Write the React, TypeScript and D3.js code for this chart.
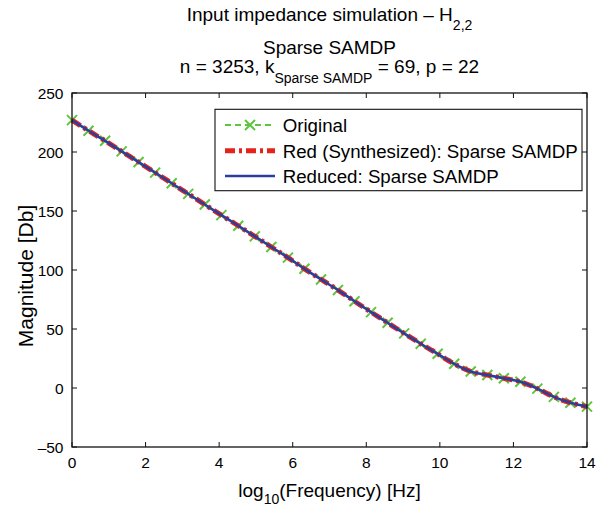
import React from "react";
import * as d3 from "d3";

const logFreq = [0, 0.45, 0.9, 1.35, 1.81, 2.26, 2.71, 3.16, 3.61, 4.06, 4.52, 4.97, 5.42, 5.87, 6.32, 6.77, 7.23, 7.68, 8.13, 8.58, 9.03, 9.48, 9.94, 10.39, 10.84, 11.29, 11.74, 12.19, 12.65, 13.1, 13.55, 14];
const original = [227, 218, 209.5, 200.5, 191.5, 182.5, 173.5, 164.5, 155.5, 146.5, 137.5, 128.5, 119.5, 110.5, 101, 92, 83, 73.5, 64.3, 55.3, 46.3, 37.5, 29, 20.5, 14, 11, 8.3, 5.3, -0.5, -7.5, -12.5, -15.8];
const synthesized = [227, 218, 209.5, 200.5, 191.5, 182.5, 173.5, 164.5, 155.5, 146.5, 137.5, 128.5, 119.5, 110.5, 101, 92, 83, 73.5, 64.3, 55.3, 46.3, 37.5, 29, 20.5, 14, 11, 8.3, 5.3, -0.5, -7.5, -12.5, -15.8];
const reduced = [227, 218, 209.5, 200.5, 191.5, 182.5, 173.5, 164.5, 155.5, 146.5, 137.5, 128.5, 119.5, 110.5, 101, 92, 83, 73.5, 64.3, 55.3, 46.3, 37.5, 29, 20.5, 14, 11, 8.3, 5.3, -0.5, -7.5, -12.5, -15.8];
const xTicks = [0, 2, 4, 6, 8, 10, 12, 14];
const yTicks = [-50, 0, 50, 100, 150, 200, 250];
const legendLabels = ["Original", "Red (Synthesized): Sparse SAMDP", "Reduced: Sparse SAMDP"];

const W = 596, H = 507;
const L = 72, R = 587, T = 93, B = 447;
const FONT = "'Liberation Sans', Arial, Helvetica, sans-serif";
const GREEN = "#5cc63c";
const RED = "#e3231c";
const BLUE = "#2c3e9c";

export default function App() {
  const x = d3.scaleLinear().domain([0, 14]).range([L, R]);
  const y = d3.scaleLinear().domain([-50, 250]).range([B, T]);
  const mk = (vals: number[]) =>
    d3.line<number>().x((_, i) => x(logFreq[i])).y((v) => y(v)).curve(d3.curveMonotoneX)(vals) || "";
  const tickLen = 5;
  const cross = (cx: number, cy: number, s: number, key: string) => (
    <path key={key} d={`M${cx - s},${cy - s}L${cx + s},${cy + s}M${cx - s},${cy + s}L${cx + s},${cy - s}`} stroke={GREEN} strokeWidth={2} fill="none" />
  );
  const legRows = [125, 150.7, 176];
  return (
    <svg width={W} height={H} style={{ position: "absolute", left: 0, top: 0, background: "#fff" }} fontFamily={FONT}>
      <rect x={0} y={0} width={W} height={H} fill="#fff" />
      {/* titles */}
      <text x={329.5} y={20.7} fontSize={19} textAnchor="middle" fill="#000">
        Input impedance simulation – H<tspan fontSize={14} dy={9}>2,2</tspan>
      </text>
      <text x={329.5} y={54} fontSize={19} textAnchor="middle" fill="#000">Sparse SAMDP</text>
      <text x={329.5} y={73.3} fontSize={19} textAnchor="middle" fill="#000">
        n = 3253, k<tspan fontSize={14} dy={10}>Sparse SAMDP</tspan><tspan dy={-10}> = 69, p = 22</tspan>
      </text>
      {/* data */}
      <path d={mk(original)} fill="none" stroke={GREEN} strokeWidth={1.8} strokeDasharray="6 4" />
      {original.map((v, i) => cross(x(logFreq[i]), y(v), 5, "m" + i))}
      <path d={mk(synthesized)} fill="none" stroke={RED} strokeWidth={5} strokeDasharray="10 4 3 4" />
      <path d={mk(reduced)} fill="none" stroke={BLUE} strokeWidth={2.6} />
      {/* axes box */}
      <rect x={L} y={T} width={R - L} height={B - T} fill="none" stroke="#111" strokeWidth={1.3} />
      {xTicks.map((t) => (
        <g key={"x" + t}>
          <line x1={x(t)} x2={x(t)} y1={B} y2={B - tickLen} stroke="#111" strokeWidth={1} />
          <line x1={x(t)} x2={x(t)} y1={T} y2={T + tickLen} stroke="#111" strokeWidth={1} />
          <text x={x(t)} y={467.5} fontSize={15.5} textAnchor="middle" fill="#000">{t}</text>
        </g>
      ))}
      {yTicks.map((t) => (
        <g key={"y" + t}>
          <line x1={L} x2={L + tickLen} y1={y(t)} y2={y(t)} stroke="#111" strokeWidth={1} />
          <line x1={R} x2={R - tickLen} y1={y(t)} y2={y(t)} stroke="#111" strokeWidth={1} />
          <text x={63.5} y={y(t) + 5.5} fontSize={15.5} textAnchor="end" fill="#000">{t < 0 ? "–" + Math.abs(t) : t}</text>
        </g>
      ))}
      {/* axis labels */}
      <text x={329.5} y={497.3} fontSize={19} textAnchor="middle" fill="#000">
        log<tspan fontSize={14} dy={7}>10</tspan><tspan dy={-7}>(Frequency) [Hz]</tspan>
      </text>
      <text transform={`translate(32.5,${276}) rotate(-90)`} fontSize={21} textAnchor="middle" fill="#000">Magnitude [Db]</text>
      {/* legend */}
      <rect x={215} y={109.3} width={367} height={81.4} fill="#fff" stroke="#111" strokeWidth={1.1} />
      <line x1={225} x2={275} y1={legRows[0]} y2={legRows[0]} stroke={GREEN} strokeWidth={1.8} strokeDasharray="6 4" />
      {cross(250, legRows[0], 5, "leg")}
      <line x1={225} x2={275} y1={legRows[1]} y2={legRows[1]} stroke={RED} strokeWidth={5} strokeDasharray="10 4 3 4" />
      <line x1={225} x2={275} y1={legRows[2]} y2={legRows[2]} stroke={BLUE} strokeWidth={2.6} />
      {legendLabels.map((lab, i) => (
        <text key={lab} x={282.7} y={legRows[i] + 7} fontSize={18.7} fill="#000">{lab}</text>
      ))}
    </svg>
  );
}
